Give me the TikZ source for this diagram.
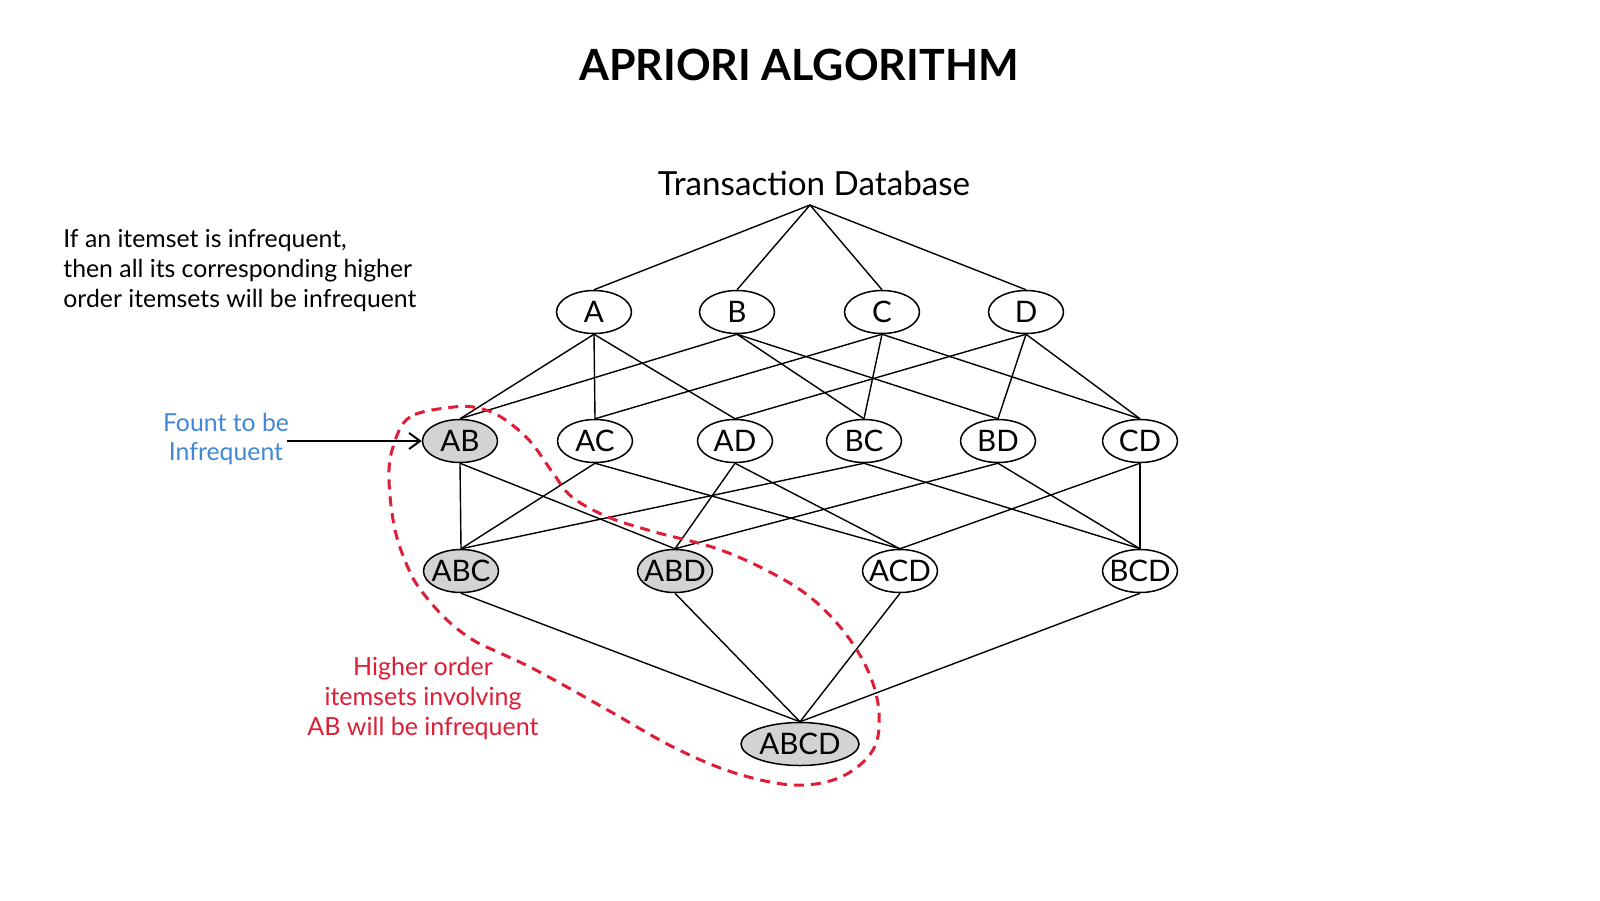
\documentclass[tikz,border=0pt]{standalone}
\usepackage{fontspec}
\setmainfont{Lato}
\usetikzlibrary{shapes.geometric,arrows.meta}
\definecolor{setgray}{RGB}{211,211,211}
\definecolor{noteblue}{RGB}{66,135,214}
\definecolor{notered}{RGB}{222,30,54}
\newcommand\setlbl[1]{\makebox[0pt]{#1}}
\begin{document}
\begin{tikzpicture}[x=0.5pt,y=-0.5pt,
  set/.style={ellipse,draw,line width=0.75pt,minimum width=37.5pt,minimum height=21.5pt,inner sep=0pt,font=\fontsize{14.8}{16}\selectfont,fill=white},
  bad/.style={set,fill=setgray},
  link/.style={line width=0.7pt},
  txt/.style={inner sep=0pt,anchor=base}]
\useasboundingbox (0,0) rectangle (1600,900);
\fill[white] (0,0) rectangle (1600,900);
% texts
\node[txt,font=\bfseries\fontsize{21.5}{25}\selectfont] (title) at (799,80) {APRIORI ALGORITHM};
\node[txt,font=\fontsize{16.6}{19}\selectfont] (tdb) at (814,195) {Transaction Database};
\node[txt,anchor=base west,align=left,font=\fontsize{12.4}{15}\selectfont] (rule) at (63,307) {If an itemset is infrequent,\\then all its corresponding higher\\order itemsets will be infrequent};
\node[txt,align=center,text=noteblue,font=\fontsize{12.4}{14.5}\selectfont] (found) at (226,460) {Fount to be\\Infrequent};
\node[txt,align=center,text=notered,font=\fontsize{12.5}{15}\selectfont] (higher) at (423,735) {Higher order\\itemsets involving\\AB will be infrequent};
\coordinate (apex) at (810,205);
\coordinate (arrowstart) at (287,441);
% level 1
\node[set] (A) at (594,312) {\setlbl{A}};
\node[set] (B) at (737,312) {\setlbl{B}};
\node[set] (C) at (882,312) {\setlbl{C}};
\node[set] (D) at (1026,312) {\setlbl{D}};
% level 2
\node[bad] (AB) at (460,441) {\setlbl{AB}};
\node[set] (AC) at (595,441) {\setlbl{AC}};
\node[set] (AD) at (735,441) {\setlbl{AD}};
\node[set] (BC) at (864,441) {\setlbl{BC}};
\node[set] (BD) at (998,441) {\setlbl{BD}};
\node[set] (CD) at (1140,441) {\setlbl{CD}};
% level 3
\node[bad] (ABC) at (461,571) {\setlbl{ABC}};
\node[bad] (ABD) at (675,571) {\setlbl{ABD}};
\node[set] (ACD) at (900,571) {\setlbl{ACD}};
\node[set] (BCD) at (1140,571) {\setlbl{BCD}};
% level 4
\node[bad,minimum width=59pt] (ABCD) at (800,744) {\setlbl{ABCD}};
% connectors
\foreach \n in {A,B,C,D} \draw[link] (apex) -- (\n.north);
\foreach \u/\l in {A/AB,A/AC,A/AD,B/AB,B/BC,B/BD,C/AC,C/BC,C/CD,D/AD,D/BD,D/CD}
  \draw[link] (\u.south) -- (\l.north);
\foreach \u/\l in {AB/ABC,AB/ABD,AC/ABC,AC/ACD,AD/ABD,AD/ACD,BC/ABC,BC/BCD,BD/ABD,BD/BCD,CD/ACD,CD/BCD}
  \draw[link] (\u.south) -- (\l.north);
\foreach \u in {ABC,ABD,ACD,BCD} \draw[link] (\u.south) -- (ABCD.north);
\draw[line width=1pt,-{Straight Barb[length=5.5pt,width=8pt]}] (arrowstart) -- (AB.west);
% red dashed region
\draw[notered,line width=1.5pt,dash pattern=on 5pt off 3.5pt]
  plot[smooth cycle,tension=0.6] coordinates {
  (454,407) (410,417) (393,447) (389,480) (395,530) (409,570) (423,593) (447,620)
  (473,640) (500,653) (530,667) (567,687) (613,713) (675,748) (735,773) (794,785)
  (841,777) (873,750) (879,713)
  (869,673) (845,633) (810,597) (766,570) (715,548) (655,532) (608,517) (572,497)
  (553,473) (529,440) (501,417) (478,408)};
\end{tikzpicture}
\end{document}
